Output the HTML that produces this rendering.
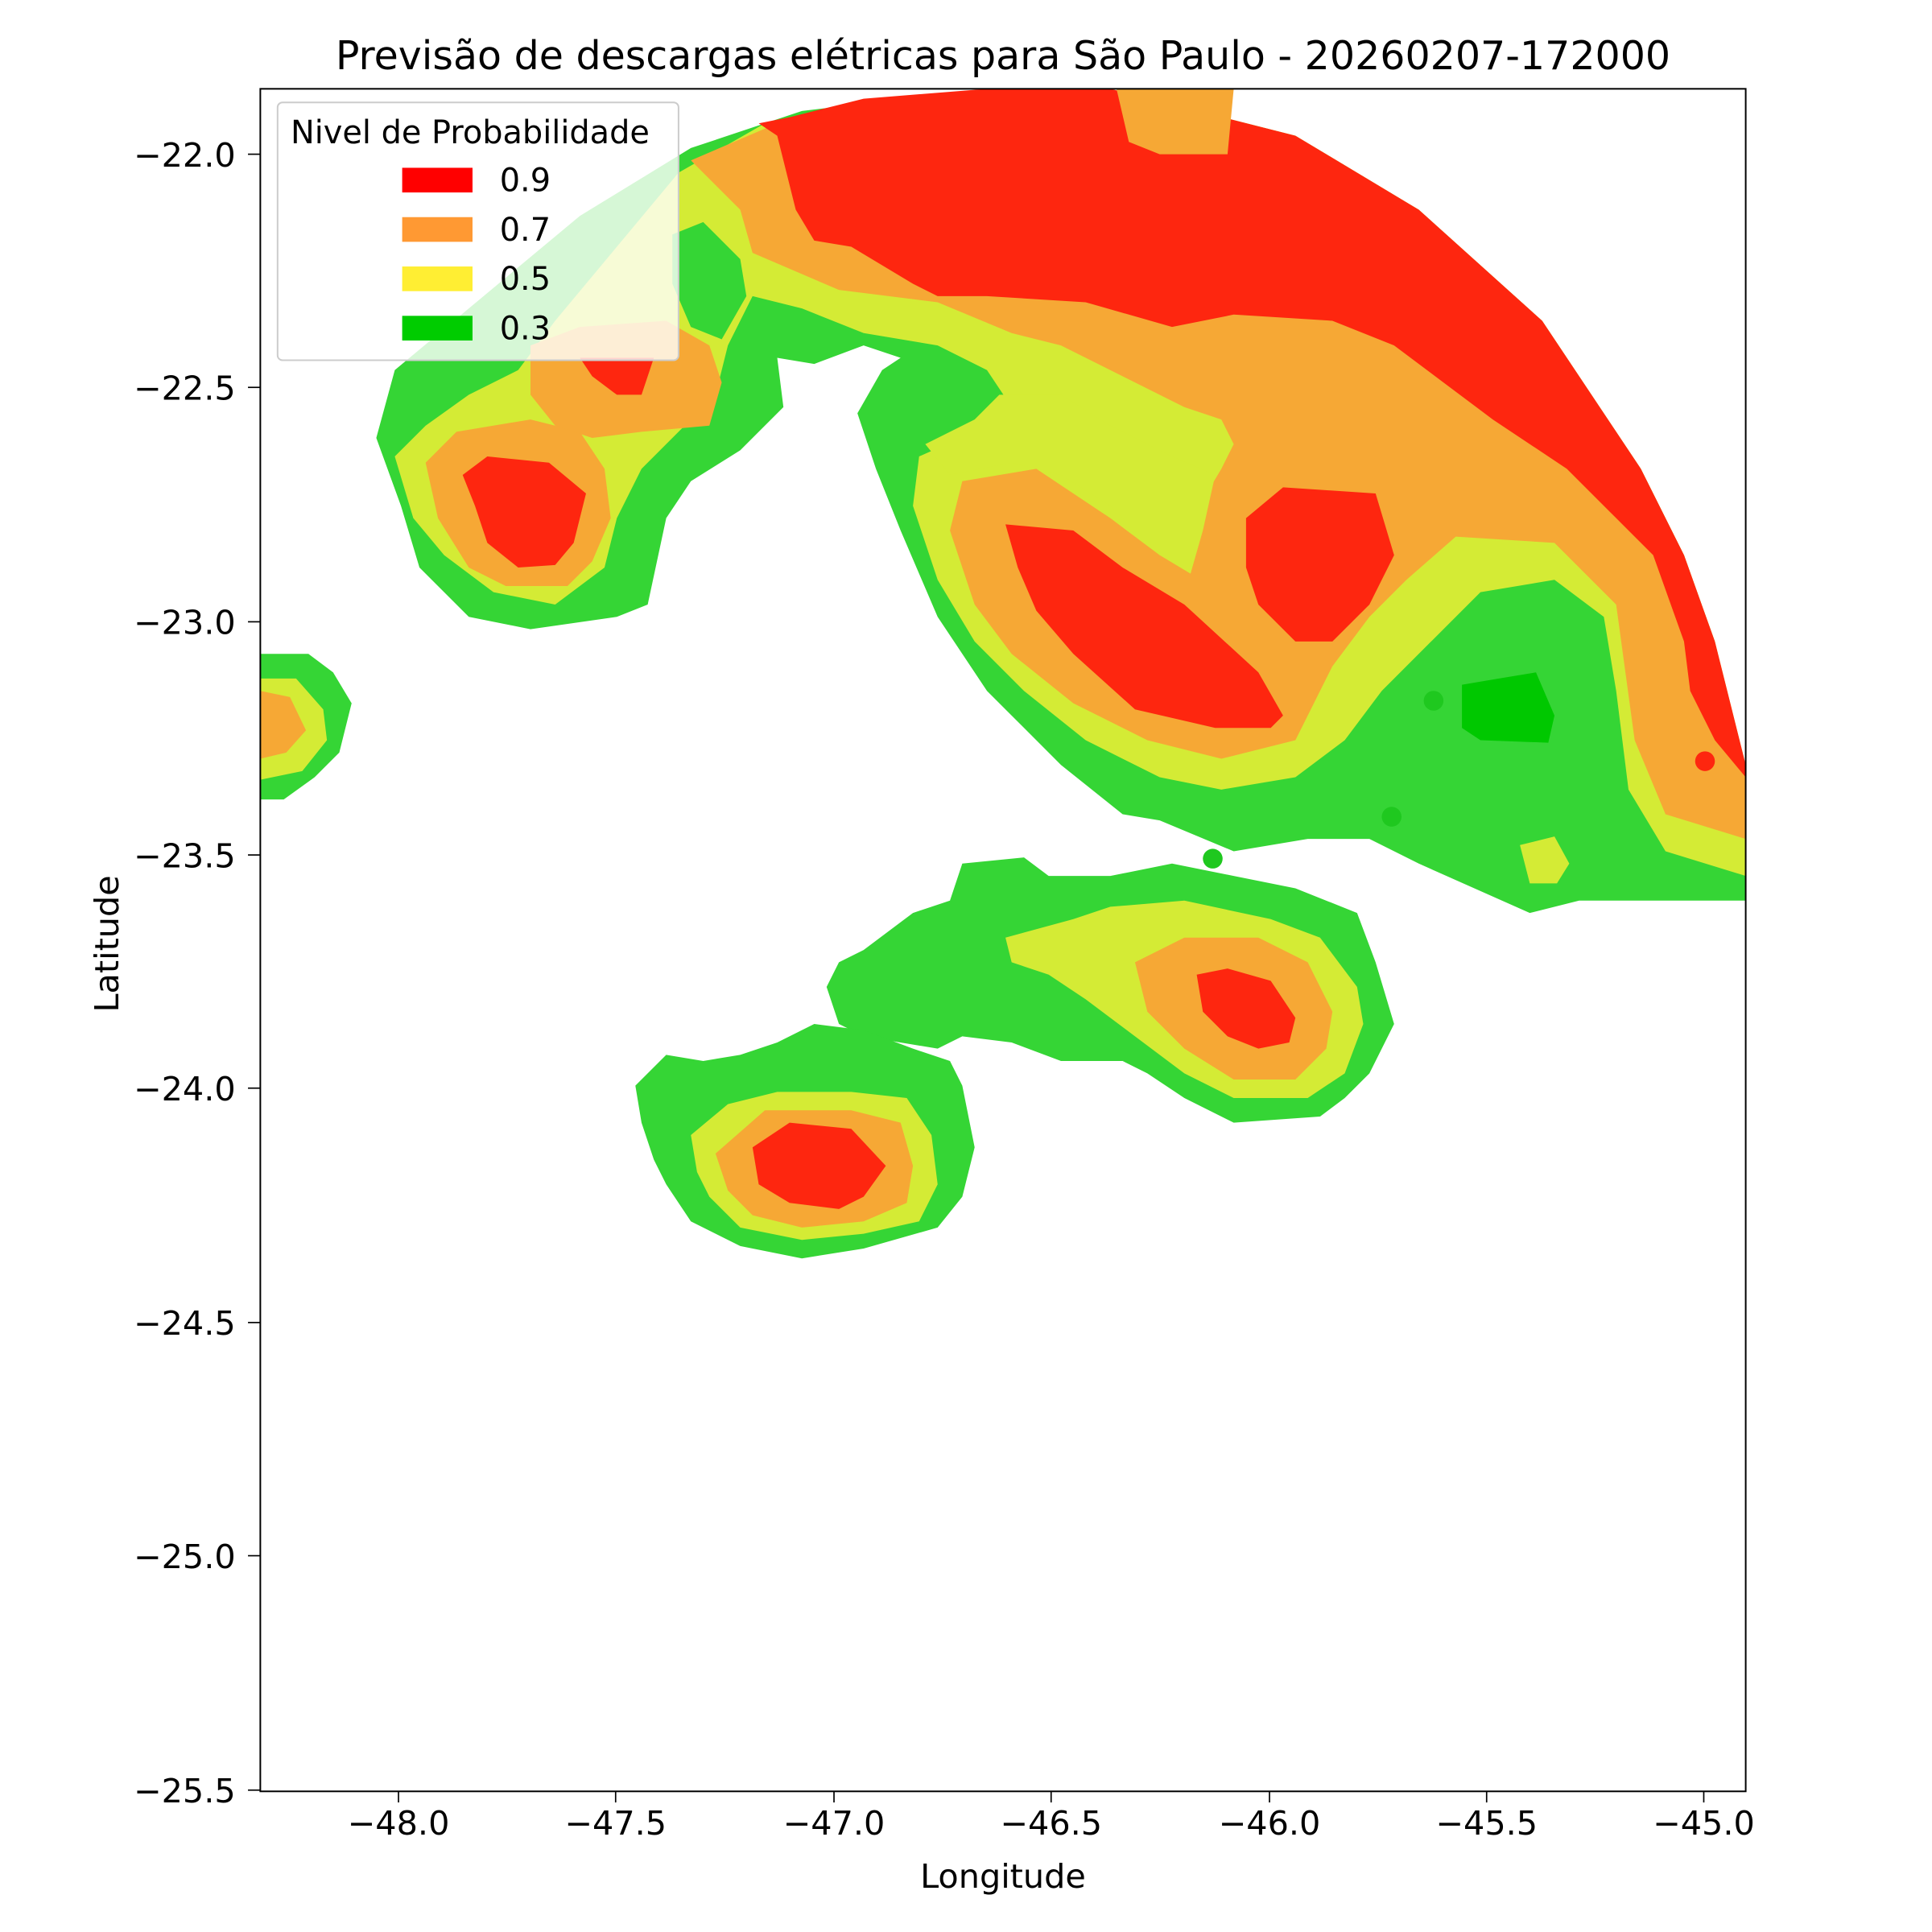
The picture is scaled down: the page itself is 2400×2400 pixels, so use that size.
<!DOCTYPE html>
<html><head><meta charset="utf-8"><style>html,body{margin:0;padding:0;background:#fff}svg{display:block}</style></head>
<body>
<svg width="2400" height="2400" viewBox="0 0 1566 1566" xmlns="http://www.w3.org/2000/svg" font-family="'DejaVu Sans','Liberation Sans',sans-serif">
<rect width="1566" height="1566" fill="#fff"/>
<defs><clipPath id="ax"><rect x="211" y="72" width="1204" height="1380"/></clipPath></defs>
<g clip-path="url(#ax)">
<polygon fill="#35d535" points="305,355 320,300 380,250 470,175 560,120 650,90 800,72 900,72 1050,110 1150,170 1250,260 1330,380 1365,450 1390,520 1415,630 1415,730 1280,730 1240,740 1150,700 1110,680 1060,680 1000,690 940,665 910,660 860,620 800,560 760,500 730,430 710,380 695,335 715,300 730,290 700,280 660,295 630,290 635,330 600,365 560,390 540,420 525,490 500,500 430,510 380,500 340,460 325,410"/>
<polygon fill="#d4eb35" points="320,370 345,345 380,320 420,300 450,260 500,200 550,140 620,100 800,72 900,72 1050,110 1150,170 1250,260 1330,380 1365,450 1390,520 1415,620 1415,710 1350,690 1320,640 1310,560 1300,500 1260,470 1200,480 1160,520 1120,560 1090,600 1050,630 990,640 940,630 880,600 830,560 790,520 760,470 740,410 745,370 790,350 820,330 800,300 760,280 700,270 650,250 610,240 590,280 580,320 550,350 520,380 500,420 490,460 450,490 400,480 360,450 335,420"/>
<polygon fill="#35d535" points="545,190 570,180 600,210 605,240 585,275 560,265 545,230"/>
<polygon fill="#f6a835" points="560,130 630,100 800,72 900,72 1050,110 1150,170 1250,260 1330,380 1365,450 1390,520 1415,620 1415,680 1350,660 1325,600 1310,490 1260,440 1180,435 1140,470 1110,500 1080,540 1050,600 990,615 930,600 870,570 820,530 790,490 770,430 780,390 840,380 900,420 940,450 960,430 990,380 1000,360 990,340 960,330 900,300 860,280 820,270 760,245 680,235 610,205 600,170"/>
<polygon fill="#d4eb35" points="750,360 790,340 810,320 860,320 900,345 950,370 985,385 975,430 965,465 940,450 900,410 860,385 820,375 770,385"/>
<polygon fill="#f6a835" points="345,375 370,350 430,340 470,350 490,380 495,420 480,455 460,475 410,475 380,460 355,420"/>
<polygon fill="#f6a835" points="430,280 470,265 540,260 575,280 585,310 575,345 520,350 480,355 450,345 430,320"/>
<polygon fill="#fe260f" points="615,100 640,95 700,80 800,72 900,72 1050,110 1150,170 1250,260 1330,380 1365,450 1390,520 1415,620 1415,630 1390,600 1370,560 1365,520 1340,450 1310,420 1270,380 1210,340 1170,310 1130,280 1080,260 1000,255 950,265 880,245 800,240 760,240 740,230 690,200 660,195 645,170 630,110"/>
<polygon fill="#f6a835" points="905,72 1000,72 995,125 940,125 915,115"/>
<polygon fill="#fe260f" points="375,385 395,370 445,375 475,400 465,440 450,458 420,460 395,440 385,410"/>
<polygon fill="#fe260f" points="815,425 870,430 910,460 960,490 1020,545 1040,580 1030,590 985,590 920,575 870,530 840,495 825,460"/>
<polygon fill="#fe260f" points="1010,420 1040,395 1115,400 1130,450 1110,490 1080,520 1050,520 1020,490 1010,460"/>
<polygon fill="#fe260f" points="470,290 530,290 520,320 500,320 480,305"/>
<polygon fill="#00c800" points="1185,555 1215,550 1245,545 1260,580 1255,602 1200,600 1185,590"/>
<polygon fill="#d4eb35" points="1232,685 1260,678 1272,700 1262,716 1240,716"/>
<polygon fill="#35d535" points="211,530 250,530 270,545 285,570 275,610 255,630 230,648 211,648"/>
<polygon fill="#d4eb35" points="211,550 240,550 262,575 265,600 245,625 211,632"/>
<polygon fill="#f6a835" points="211,560 235,565 248,592 232,610 211,615"/>
<polygon fill="#35d535" points="780,700 830,695 850,710 900,710 950,700 1000,710 1050,720 1100,740 1115,780 1130,830 1110,870 1090,890 1070,905 1000,910 960,890 930,870 910,860 860,860 820,845 780,840 760,850 700,840 680,830 670,800 680,780 700,770 740,740 770,730"/>
<polygon fill="#35d535" points="515,880 540,855 570,860 600,855 630,845 660,830 700,835 740,850 770,860 780,880 790,930 780,970 760,995 700,1012 650,1020 600,1010 560,990 540,960 530,940 520,910"/>
<polygon fill="#d4eb35" points="560,920 590,895 630,885 690,885 735,890 755,920 760,960 745,990 700,1000 650,1005 600,995 575,970 565,950"/>
<polygon fill="#f6a835" points="580,935 620,900 690,900 730,910 740,945 735,975 700,990 650,995 610,985 590,965"/>
<polygon fill="#fe260f" points="610,930 640,910 690,915 718,945 700,970 680,980 640,975 615,960"/>
<polygon fill="#d4eb35" points="815,760 870,745 900,735 960,730 1030,745 1070,760 1100,800 1105,830 1090,870 1060,890 1000,890 960,870 920,840 880,810 850,790 820,780"/>
<polygon fill="#f6a835" points="920,780 960,760 1020,760 1060,780 1080,820 1075,850 1050,875 1000,875 960,850 930,820"/>
<polygon fill="#fe260f" points="970,790 995,785 1030,795 1050,825 1045,845 1020,850 995,840 975,820"/>
<circle cx="1382" cy="617" r="8" fill="#fe260f"/>
<circle cx="1162" cy="568" r="8" fill="#1fc81f"/>
<circle cx="1128" cy="662" r="8" fill="#1fc81f"/>
<circle cx="983" cy="696" r="8" fill="#1fc81f"/>
</g>
<rect x="211" y="72" width="1204" height="1380" fill="none" stroke="#000" stroke-width="1.3"/>
<rect x="225" y="83" width="325" height="209" rx="4" fill="#fff" fill-opacity="0.8" stroke="#ccc" stroke-width="1.3"/>
<text x="381" y="116" font-size="26" text-anchor="middle">Nivel de Probabilidade</text>
<rect x="326" y="136" width="57" height="20" fill="#ff0000"/>
<rect x="326" y="176" width="57" height="20" fill="#ff9933"/>
<rect x="326" y="216" width="57" height="20" fill="#ffee33"/>
<rect x="326" y="256" width="57" height="20" fill="#00cc00"/>
<g font-size="26"><text x="405" y="155">0.9</text><text x="405" y="195">0.7</text><text x="405" y="235">0.5</text><text x="405" y="275">0.3</text></g>
<g stroke="#000" stroke-width="1.1">
<line x1="323" y1="1452" x2="323" y2="1461"/><line x1="499" y1="1452" x2="499" y2="1461"/><line x1="676" y1="1452" x2="676" y2="1461"/><line x1="852" y1="1452" x2="852" y2="1461"/><line x1="1029" y1="1452" x2="1029" y2="1461"/><line x1="1205" y1="1452" x2="1205" y2="1461"/><line x1="1381" y1="1452" x2="1381" y2="1461"/>
<line x1="201" y1="125" x2="211" y2="125"/><line x1="201" y1="314" x2="211" y2="314"/><line x1="201" y1="504" x2="211" y2="504"/><line x1="201" y1="693" x2="211" y2="693"/><line x1="201" y1="882" x2="211" y2="882"/><line x1="201" y1="1072" x2="211" y2="1072"/><line x1="201" y1="1261" x2="211" y2="1261"/><line x1="201" y1="1451" x2="211" y2="1451"/>
</g>
<g font-size="27" text-anchor="middle">
<text x="323" y="1487">−48.0</text><text x="499" y="1487">−47.5</text><text x="676" y="1487">−47.0</text><text x="852" y="1487">−46.5</text><text x="1029" y="1487">−46.0</text><text x="1205" y="1487">−45.5</text><text x="1381" y="1487">−45.0</text>
</g>
<g font-size="27" text-anchor="end">
<text x="191" y="135">−22.0</text><text x="191" y="324">−22.5</text><text x="191" y="514">−23.0</text><text x="191" y="703">−23.5</text><text x="191" y="892">−24.0</text><text x="191" y="1082">−24.5</text><text x="191" y="1271">−25.0</text><text x="191" y="1461">−25.5</text>
</g>
<text x="813" y="1530" font-size="27" text-anchor="middle">Longitude</text>
<text transform="translate(96,765) rotate(-90)" font-size="27" text-anchor="middle">Latitude</text>
<text x="813" y="56" font-size="32" text-anchor="middle">Previsão de descargas elétricas para São Paulo - 20260207-172000</text>
</svg>
</body></html>
